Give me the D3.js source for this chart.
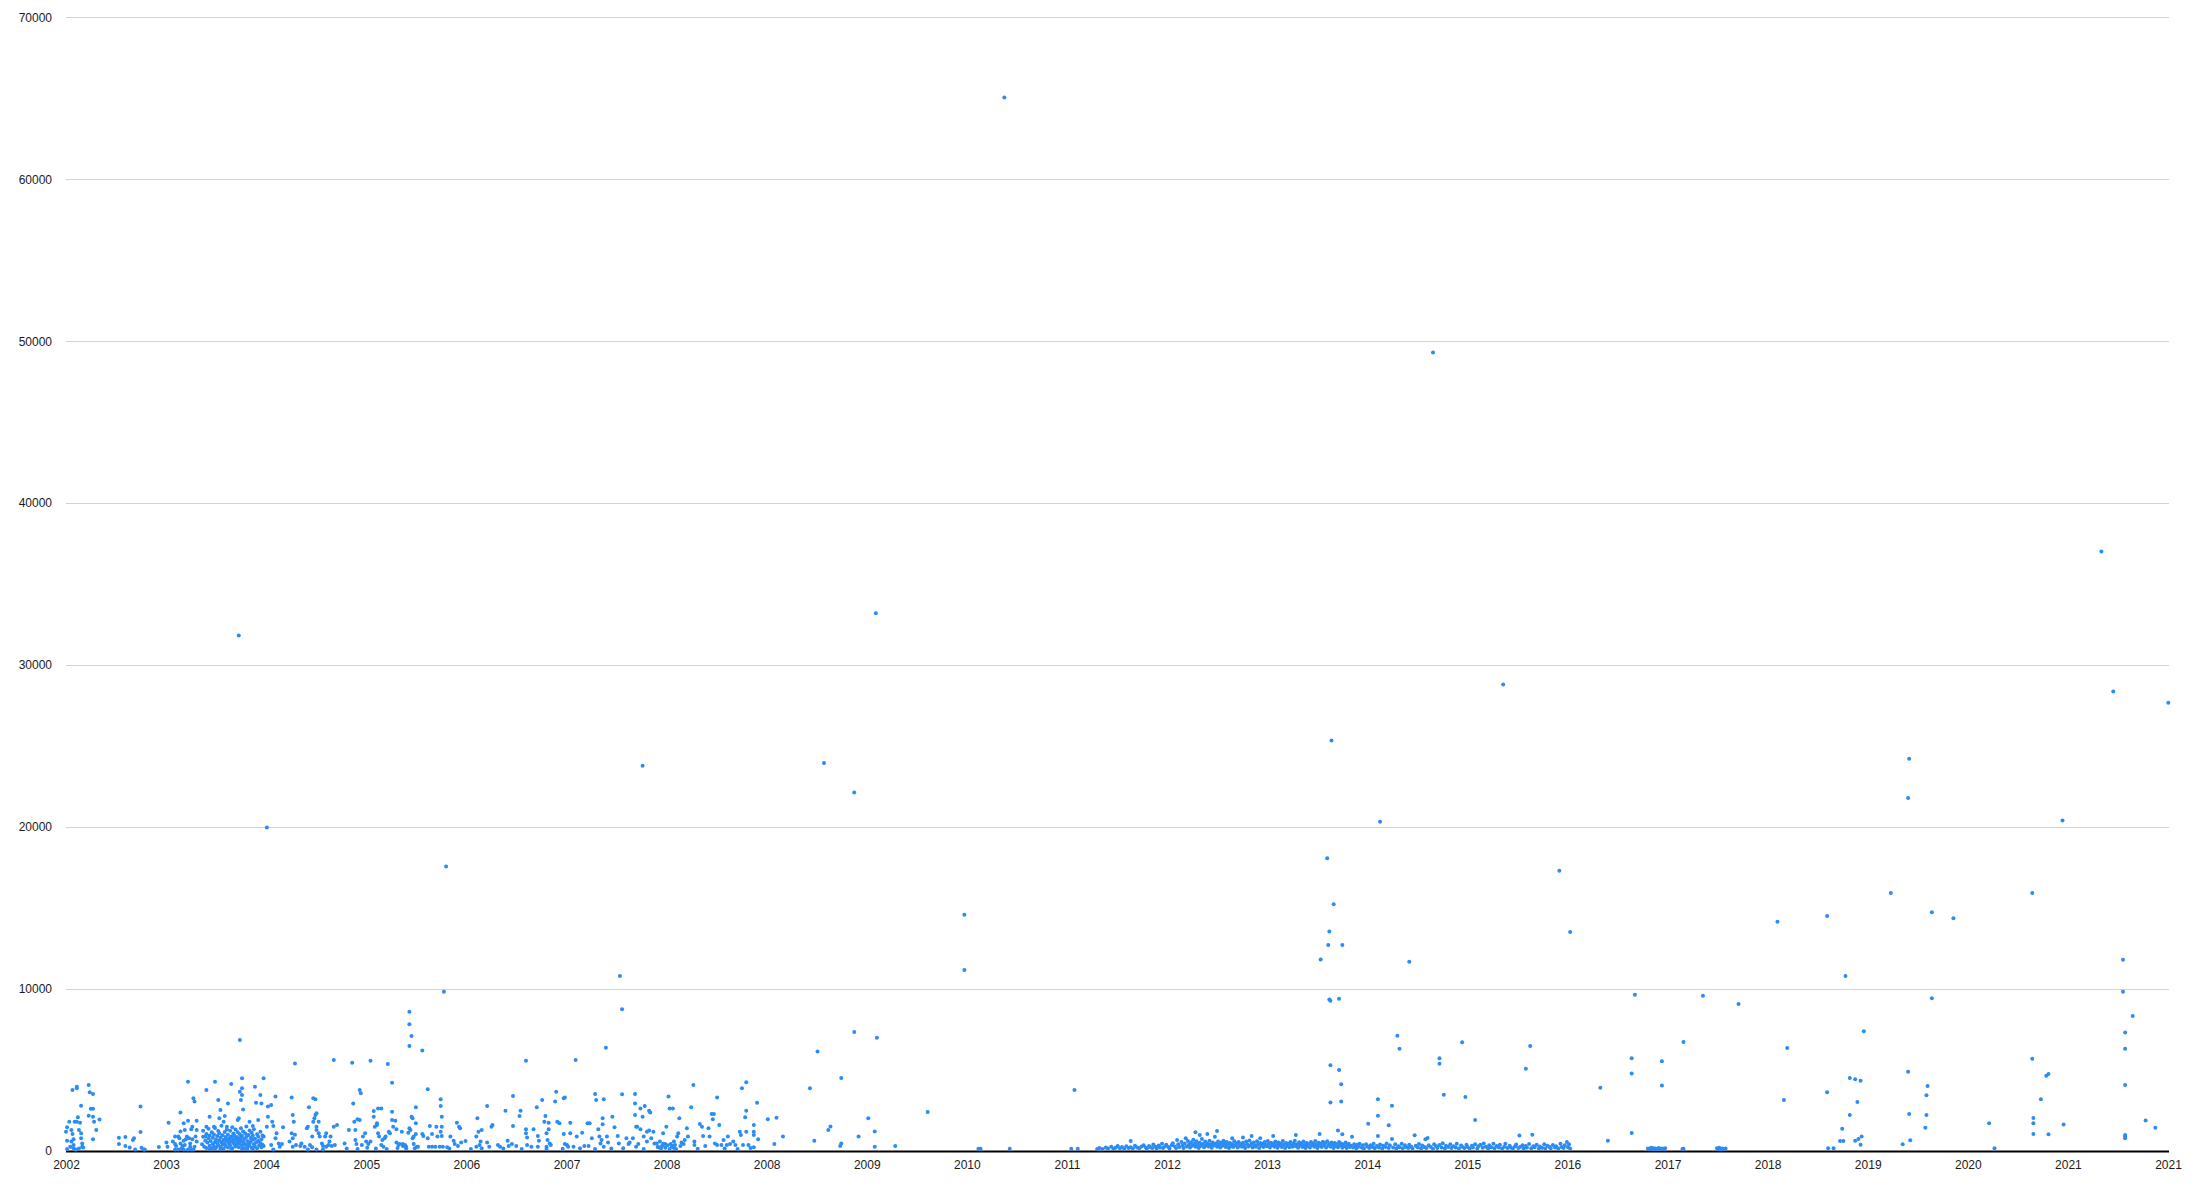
<!DOCTYPE html>
<html>
<head>
<meta charset="utf-8">
<script src="https://cdn.jsdelivr.net/npm/d3@7"></script>
<style>
  html, body { margin: 0; padding: 0; background: #ffffff; }
  svg { display: block; }
  text { font-family: "Liberation Sans", Arial, Helvetica, sans-serif; }
</style>
</head>
<body>
<svg id="chart" width="2197" height="1186"></svg>
<script>
// ---------------- DATA ----------------
const yTicks = [0, 10000, 20000, 30000, 40000, 50000, 60000, 70000];
const xTickLabels = ["2002","2003","2004","2005","2006","2007","2008","2008","2009","2010","2011",
  "2012","2013","2014","2015","2016","2017","2018","2019","2020","2021","2021"];
const xStart = 2002.0, xEnd = 2021.467;   // date range of the axis (decimal years)

// each point: [decimal year, value]
const outliers = [
[2010.69,65050],[2014.66,49300],[2020.85,37020],[2009.5,33200],[2003.6,31830],[2015.31,28800],
[2020.96,28370],[2021.47,27680],[2013.72,25340],[2019.07,24220],[2009.02,23960],[2007.34,23790],
[2009.3,22140],[2019.06,21800],[2020.49,20410],[2014.17,20330],[2003.86,19980],[2013.68,18080],
[2005.52,17560],[2015.83,17300],[2018.9,15930],[2020.21,15930],[2013.74,15230],[2019.28,14740],
[2010.32,14590],[2018.31,14510],[2019.48,14370],[2017.85,14160],[2013.7,13560],[2015.93,13520],
[2013.69,12720],[2013.82,12720],[2013.62,11830],[2014.44,11690],[2021.05,11810],[2010.32,11180],
[2007.13,10810],[2018.48,10810]
];

const pts2002 = [
[2002.01,1460],[2002.0,1190],[2002.01,640],[2002.01,120],[2002.03,1810],[2002.05,1300],[2002.06,1050],
[2002.07,720],[2002.07,370],[2002.07,165],[2002.06,3770],[2002.1,3870],[2002.1,3970],[2002.08,1810],
[2002.1,1810],[2002.11,2080],[2002.12,1300],[2002.13,1750],[2002.14,1090],[2002.14,780],[2002.15,470],
[2002.15,270],[2002.14,2800],[2002.21,4080],[2002.22,3620],[2002.25,3520],[2002.23,2610],[2002.25,2610],
[2002.21,2180],[2002.25,2120],[2002.26,1810],[2002.31,1950],[2002.28,1300],[2002.25,720],[2002.04,270],
[2002.05,580],[2002.09,100],[2002.12,160],[2002.16,220],
[2002.49,820],[2002.49,430],[2002.55,860],[2002.55,310],[2002.59,210],[2002.63,780],[2002.62,680],
[2002.64,100],[2002.69,2740],[2002.69,1170],[2002.7,200],[2002.72,100],[2002.73,100]
];

const pts2003 = [
[2002.86,250],[2002.93,520],[2002.94,270],[2002.95,1750],[2002.99,580],[2003.01,430],[2003.02,310],
[2003.04,890],[2003.05,780],[2003.06,2370],[2003.06,470],[2003.07,165],[2003.08,310],[2003.09,640],
[2003.09,1710],[2003.1,1300],[2003.1,370],[2003.12,890],[2003.13,4280],[2003.13,1870],[2003.14,780],
[2003.15,270],[2003.15,470],[2003.16,1340],[2003.17,1500],[2003.17,720],[2003.18,3250],[2003.19,3050],
[2003.19,270],[2003.2,890],[2003.21,1870],[2003.21,1300],[2003.21,580],[2003.11,720],[2003.01,100],
[2003.04,100],[2003.09,100],[2003.13,100],[2003.16,100],[2003.18,100],[2003.01,890],[2003.06,1200],
[2003.3,3770],[2003.38,4280],[2003.41,3150],[2003.43,2530],[2003.42,2020],[2003.47,2160],[2003.5,2940],
[2003.53,4140],[2003.61,6850],[2003.63,4490],[2003.63,3870],[2003.61,3660],[2003.63,3460],[2003.62,3150],
[2003.64,2570],[2003.6,2020],[2003.59,1910],[2003.75,3970],[2003.83,4490],[2003.76,2980],[2003.8,3460],
[2003.81,2940],[2003.78,1910],[2003.7,1810],[2003.73,1540],[2003.33,2120],[2003.3,1500],[2003.29,890],
[2003.37,1500],[2003.46,1810],[2003.49,1500]
];

const core2003 = [
[2003.26,420],[2003.27,880],[2003.27,1250],[2003.28,260],[2003.29,640],[2003.3,1050],[2003.3,180],
[2003.31,520],[2003.32,780],[2003.32,1380],[2003.33,330],[2003.33,950],[2003.34,610],[2003.35,150],
[2003.35,1160],[2003.36,430],[2003.36,820],[2003.37,290],[2003.37,1020],[2003.38,560],[2003.38,1420],
[2003.39,710],[2003.39,210],[2003.4,930],[2003.4,480],[2003.41,1240],[2003.41,350],[2003.42,650],
[2003.42,1100],[2003.43,240],[2003.43,830],[2003.44,520],[2003.44,1560],[2003.45,380],[2003.45,980],
[2003.46,690],[2003.46,140],[2003.47,1180],[2003.47,450],[2003.48,860],[2003.48,310],[2003.49,1330],
[2003.49,610],[2003.5,1010],[2003.5,220],[2003.51,760],[2003.51,470],[2003.52,1250],[2003.52,350],
[2003.53,900],[2003.53,580],[2003.54,1470],[2003.54,170],[2003.55,720],[2003.55,1080],[2003.56,410],
[2003.56,940],[2003.57,280],[2003.57,1320],[2003.58,630],[2003.58,870],[2003.59,500],[2003.59,1150],
[2003.6,230],[2003.6,790],[2003.61,1030],[2003.61,440],[2003.62,1400],[2003.62,660],[2003.63,320],
[2003.63,920],[2003.64,560],[2003.64,1210],[2003.65,150],[2003.65,740],[2003.66,1080],[2003.66,390],
[2003.67,860],[2003.67,1520],[2003.68,250],[2003.68,610],[2003.69,990],[2003.69,470],[2003.7,1260],
[2003.7,330],[2003.71,800],[2003.71,560],[2003.72,1130],[2003.72,200],[2003.73,690],[2003.73,940],
[2003.74,410],[2003.74,1350],[2003.75,280],[2003.75,760],[2003.76,520],[2003.77,1040],[2003.77,170],
[2003.78,620],[2003.78,880],[2003.79,360],[2003.8,1190],[2003.8,490],[2003.81,230],[2003.81,720],
[2003.82,960],[2003.82,380],[2003.45,560],[2003.5,640],[2003.55,520],[2003.6,600],[2003.65,480],
[2003.52,800],[2003.57,760],[2003.62,840],[2003.48,700],[2003.58,330],[2003.53,120],[2003.63,130],
[2003.43,110],[2003.68,120],[2003.73,110],[2003.38,130],[2003.33,120]
];

const pts2004 = [
[2003.87,2740],[2003.87,2120],[2003.9,2840],[2003.91,1810],[2003.92,1540],[2003.94,780],[2003.94,3360],
[2003.95,1090],[2003.97,470],[2003.98,270],[2004.0,430],[2004.01,1460],[2003.9,370],[2003.92,100],
[2003.86,1500],[2003.83,890],[2003.83,310],[2004.09,3310],[2004.1,2220],[2004.11,1810],[2004.09,1090],
[2004.1,780],[2004.1,270],[2004.12,1000],[2004.13,370],[2004.07,580],[2004.12,5410],
[2004.17,310],[2004.18,470],[2004.21,270],[2004.23,1400],[2004.24,1500],[2004.25,2700],[2004.26,370],
[2004.28,890],[2004.29,1810],[2004.3,2020],[2004.31,2220],[2004.32,2330],[2004.32,1500],[2004.32,1300],
[2004.34,1810],[2004.34,1090],[2004.35,890],[2004.37,470],[2004.38,310],[2004.4,890],[2004.41,1090],
[2004.41,270],[2004.43,370],[2004.44,580],[2004.45,890],[2004.46,310],[2004.48,1500],[2004.49,370],
[2004.51,1600],[2004.48,5620],[2004.29,3250],[2004.31,3190],[2004.28,230],[2004.24,100],[2004.32,100],
[2004.38,100],
[2004.58,470],[2004.62,1300],[2004.65,5450],[2004.66,2940],[2004.67,1810],[2004.68,1300],[2004.68,680],
[2004.69,430],[2004.7,1960],[2004.72,3770],[2004.73,3560],[2004.72,1910],[2004.74,370],[2004.75,890],
[2004.77,1090],[2004.78,580],[2004.8,430],[2004.82,580],[2004.82,5580],[2004.85,2120],[2004.85,2470],
[2004.86,1500],[2004.88,1710],[2004.88,1600],[2004.89,2630],[2004.89,1090],[2004.9,890],[2004.92,2630],
[2004.92,370],[2004.93,680],[2004.94,270],[2004.95,780],[2004.96,890],[2004.98,5370],[2004.99,1190],
[2005.0,1090],[2005.02,1910],[2005.02,2430],[2005.02,4220],[2005.03,1500],[2005.05,1870],[2005.06,1340],
[2005.06,520],[2005.08,370],[2005.09,430],[2005.12,310],[2005.14,370],
[2004.6,150],[2004.7,120],[2004.79,200],[2004.87,150],[2004.97,120],[2005.07,180],[2005.15,150]
];

const pts2005_2006 = [
[2005.18,8600],[2005.18,7820],[2005.2,7100],[2005.18,6480],
[2005.11,1190],[2005.12,430],[2005.14,310],[2005.15,270],[2005.17,1130],[2005.18,1400],[2005.19,1300],
[2005.2,2120],[2005.21,2020],[2005.21,780],[2005.22,890],[2005.22,430],[2005.23,165],[2005.24,1710],
[2005.24,2700],[2005.24,1050],[2005.25,270],[2005.26,270],[2005.3,1050],[2005.31,930],[2005.3,6200],
[2005.35,3810],[2005.35,780],[2005.36,270],[2005.37,1540],[2005.39,270],[2005.39,1050],[2005.42,270],
[2005.43,1500],[2005.44,890],[2005.46,270],[2005.47,3190],[2005.47,2780],[2005.48,2120],[2005.48,1500],
[2005.47,1190],[2005.48,930],[2005.49,270],[2005.5,9840],[2005.53,230],[2005.56,890],[2005.59,640],
[2005.6,430],[2005.62,1750],[2005.64,1500],[2005.65,1400],[2005.66,520],[2005.7,620],[2005.63,310],
[2005.8,890],[2005.81,2020],[2005.82,1190],[2005.85,1300],[2005.84,580],[2005.83,370],[2005.85,165],
[2005.8,270],[2005.9,2780],[2005.9,520],[2005.92,270],[2005.94,1500],[2005.95,1600],[2006.0,370],
[2006.02,270],[2006.07,2490],[2006.09,640],[2006.1,310],[2006.13,430],[2006.14,3400],[2006.14,1540],
[2006.17,310],[2006.2,2160],[2006.21,2490],[2006.26,5580],[2006.26,1340],[2006.26,1090],[2006.27,840],
[2006.27,370],[2006.31,270],[2006.33,1340],[2006.36,2700],[2006.37,270],[2006.37,930],[2006.38,640],
[2006.41,3150],[2006.43,1810],[2006.44,2160],[2006.45,1090],[2006.46,680],[2006.47,1750],[2006.47,1340],
[2006.48,470],[2006.49,370],[2006.45,270],[2006.45,120],[2006.53,3050],[2006.54,3660],[2006.55,1810],
[2006.57,1710],[2006.61,3250],[2006.62,3310],[2006.61,1050],[2006.62,430],[2006.64,370],[2006.65,270],
[2006.67,1750],[2006.67,1090],[2006.7,270],[2006.72,5620],[2006.73,890],[2006.76,165],[2006.78,1130],
[2006.8,310],[2006.83,1710],[2006.84,310],[2006.85,1710],[2006.87,780],[2006.9,3520],[2006.91,3150],
[2006.93,1340],[2006.94,890],[2006.95,470],[2006.96,680],[2006.97,2020],[2006.98,3190],[2006.97,1650],
[2006.98,270],[2005.55,150],[2005.75,120],[2006.05,150],[2006.22,120],[2006.6,140],[2006.9,120]
];

const pts2007_2008 = [
[2007.0,6380],[2007.01,890],[2007.02,520],[2007.06,2120],[2007.08,1460],[2007.11,930],[2007.12,470],
[2007.15,8750],[2007.15,3500],[2007.16,165],[2007.19,780],[2007.21,430],[2007.22,520],[2007.25,780],
[2007.27,3520],[2007.27,2940],[2007.27,2220],[2007.28,1500],[2007.29,1500],[2007.28,270],[2007.3,430],
[2007.32,2630],[2007.32,1340],[2007.34,2120],[2007.35,890],[2007.36,2780],[2007.38,1190],[2007.38,580],
[2007.4,2490],[2007.41,2370],[2007.4,1260],[2007.42,780],[2007.44,1190],[2007.45,470],[2007.47,470],
[2007.49,230],[2007.5,580],[2007.52,310],[2007.53,1090],[2007.55,430],[2007.56,1500],[2007.58,3360],
[2007.59,2630],[2007.6,430],[2007.62,310],[2007.62,2630],[2007.63,580],[2007.64,370],[2007.66,890],
[2007.67,1090],[2007.68,2020],[2007.69,310],[2007.7,520],[2007.72,430],[2007.73,680],[2007.75,1400],
[2007.76,890],[2007.79,2700],[2007.81,4080],[2007.82,580],[2007.82,370],[2007.87,1670],[2007.89,1500],
[2007.9,930],[2007.92,310],[2007.95,1400],[2007.96,890],[2007.98,2280],[2007.99,1960],[2008.0,2280],
[2008.01,470],[2008.03,370],[2008.03,3310],[2008.05,1600],[2008.07,370],[2008.09,680],[2008.12,370],
[2008.13,890],[2008.15,430],[2008.18,580],[2008.2,370],[2008.24,1190],[2008.25,990],[2008.26,3870],
[2008.27,370],[2008.29,2080],[2008.3,2490],[2008.3,1190],[2008.3,4240],[2008.32,370],
[2007.48,250],[2007.51,150],[2007.53,450],[2007.55,200],[2007.57,350],[2007.59,130],[2007.61,260],
[2007.63,180],[2007.65,120],
[2007.05,150],[2007.35,130],[2007.85,140],[2008.1,150],[2008.22,130]
];

const pts2009_2011 = [
[2008.34,190],[2008.37,230],[2008.37,1600],[2008.37,1190],[2008.37,990],[2008.4,2980],[2008.41,720],
[2008.5,1960],[2008.56,430],[2008.58,2060],[2008.64,890],[2008.89,3870],[2008.93,640],[2008.96,6150],
[2009.06,1300],[2009.08,1520],[2009.17,310],[2009.18,470],[2009.18,4510],[2009.3,7350],[2009.34,890],
[2009.43,2020],[2009.49,1210],[2009.49,270],[2009.51,7000],[2009.68,310],[2009.98,2410],[2010.45,140],
[2010.47,140],[2010.74,140],[2011.31,140],[2011.34,3770],[2011.37,140]
];

const band2011_2016 = [
[2011.55,130],[2011.57,180],[2011.6,120],[2011.63,210],[2011.65,150],[2011.68,260],[2011.7,140],
[2011.72,200],[2011.74,310],[2011.76,170],[2011.78,240],[2011.8,130],[2011.82,290],[2011.84,190],
[2011.86,620],[2011.86,230],[2011.88,150],[2011.9,330],[2011.92,210],[2011.94,170],[2011.96,280],
[2011.98,360],[2012.0,220],[2012.01,140],[2012.03,310],[2012.04,250],[2012.06,180],[2012.07,400],
[2012.09,270],[2012.1,150],[2012.12,340],[2012.13,220],[2012.15,450],[2012.16,180],[2012.18,300],
[2012.19,390],[2012.21,240],[2012.22,160],[2012.24,350],[2012.25,480],[2012.27,280],[2012.28,190],
[2012.29,680],[2012.3,420],[2012.31,250],[2012.33,560],[2012.34,330],[2012.35,180],[2012.36,470],
[2012.37,780],[2012.38,280],[2012.39,620],[2012.4,390],[2012.41,210],[2012.42,540],[2012.43,320],
[2012.44,700],[2012.45,450],[2012.46,1150],[2012.46,260],[2012.47,600],[2012.48,380],[2012.49,190],
[2012.5,990],[2012.5,510],[2012.51,310],[2012.52,740],[2012.53,430],[2012.54,230],[2012.55,580],
[2012.56,360],[2012.57,1050],[2012.57,470],[2012.58,280],[2012.59,640],[2012.6,400],[2012.61,200],
[2012.62,530],[2012.63,340],[2012.64,880],[2012.65,460],[2012.66,1230],[2012.66,270],[2012.67,590],
[2012.68,380],[2012.69,210],[2012.7,520],[2012.71,330],[2012.72,640],[2012.73,440],[2012.74,250],
[2012.75,560],[2012.76,370],[2012.77,180],[2012.78,490],[2012.79,300],[2012.8,780],[2012.8,420],
[2012.81,240],[2012.82,600],[2012.83,350],[2012.84,470],[2012.85,210],[2012.86,550],[2012.87,320],
[2012.88,430],[2012.89,260],[2012.9,840],[2012.9,510],[2012.91,370],[2012.92,190],[2012.93,580],
[2012.94,410],[2012.95,280],[2012.96,650],[2012.97,340],[2012.98,930],[2012.98,470],[2012.99,220],
[2013.0,530],[2013.01,360],[2013.02,260],[2013.03,600],[2013.04,420],[2013.05,180],[2013.06,780],
[2013.06,500],[2013.07,330],[2013.08,450],[2013.09,240],[2013.1,560],[2013.11,380],[2013.12,290],
[2013.13,620],[2013.14,430],[2013.15,210],[2013.16,510],[2013.17,350],[2013.18,930],[2013.18,460],
[2013.19,270],[2013.2,580],[2013.21,390],[2013.22,200],[2013.23,520],[2013.24,340],[2013.25,460],
[2013.26,250],[2013.27,610],[2013.28,380],[2013.29,180],[2013.3,500],[2013.31,320],[2013.32,440],
[2013.33,230],[2013.34,560],[2013.35,360],[2013.36,270],[2013.37,480],[2013.38,640],[2013.39,990],
[2013.39,300],[2013.4,420],[2013.41,200],[2013.42,540],[2013.43,340],[2013.44,460],[2013.45,250],
[2013.46,580],[2013.47,370],[2013.48,180],[2013.49,500],[2013.5,310],[2013.51,430],[2013.52,220],
[2013.53,560],[2013.54,350],[2013.55,470],[2013.56,260],[2013.57,620],[2013.58,380],[2013.59,190],
[2013.6,510],[2013.61,1050],[2013.61,330],[2013.62,450],[2013.63,240],[2013.64,570],[2013.65,360],
[2013.66,480],[2013.67,210],[2013.68,600],[2013.69,340],[2013.7,450],[2013.71,260],[2013.72,530],
[2013.73,380],[2013.74,180],[2013.75,490],[2013.76,310],[2013.77,420],[2013.78,1260],[2013.78,230],
[2013.79,550],[2013.8,350],[2013.81,470],[2013.82,1030],[2013.82,200],[2013.83,400],[2013.84,290],
[2013.85,520],[2013.86,180],[2013.87,370],[2013.88,440],[2013.89,250],[2013.9,330],[2013.91,880],
[2013.92,210],[2013.93,410],[2013.94,300],[2013.95,170],[2013.96,380],[2013.97,260],[2013.98,450],
[2014.0,220],[2014.01,350],[2014.02,160],[2014.04,420],[2014.05,280],[2014.06,1690],[2014.07,190],
[2014.08,360],[2014.1,240],[2014.11,450],[2014.12,170],[2014.14,310],[2014.15,930],[2014.16,220],
[2014.17,400],[2014.19,150],[2014.2,330],[2014.22,250],[2014.23,470],[2014.25,180],[2014.26,360],
[2014.28,740],[2014.29,220],[2014.31,410],[2014.32,160],[2014.34,300],[2014.35,230],[2014.37,440],
[2014.38,170],[2014.4,350],[2014.41,250],[2014.43,190],[2014.44,380],[2014.46,270],[2014.47,150],
[2014.49,970],[2014.5,320],[2014.52,210],[2014.53,430],[2014.55,160],[2014.56,340],[2014.58,240],
[2014.59,720],[2014.6,180],[2014.61,800],[2014.62,360],[2014.64,250],[2014.66,140],[2014.67,420],
[2014.69,300],[2014.7,190],[2014.72,370],[2014.74,220],[2014.75,480],[2014.77,160],[2014.78,330],
[2014.8,250],[2014.82,410],[2014.83,180],[2014.85,300],[2014.87,220],[2014.88,450],[2014.9,150],
[2014.92,340],[2014.93,260],[2014.95,180],[2014.97,390],[2014.98,240],[2015.0,160],[2015.02,330],
[2015.03,210],[2015.05,420],[2015.07,150],[2015.08,290],[2015.1,380],[2015.12,200],[2015.13,470],
[2015.15,260],[2015.17,160],[2015.18,350],[2015.2,230],[2015.22,440],[2015.23,170],[2015.25,310],
[2015.27,210],[2015.28,380],[2015.3,150],[2015.32,270],[2015.33,450],[2015.35,190],[2015.37,330],
[2015.38,220],[2015.4,150],[2015.42,290],[2015.43,400],[2015.45,180],[2015.46,950],[2015.47,260],
[2015.49,350],[2015.5,140],[2015.52,310],[2015.53,210],[2015.55,430],[2015.57,170],[2015.58,1010],
[2015.59,300],[2015.6,230],[2015.62,380],[2015.64,150],[2015.65,280],[2015.67,200],[2015.69,420],
[2015.7,160],[2015.72,320],[2015.74,240],[2015.75,170],[2015.77,370],[2015.79,210],[2015.8,290],
[2015.82,150],[2015.84,440],[2015.85,250],[2015.87,180],[2015.88,360],[2015.9,560],[2015.91,230],
[2015.92,420],[2015.93,160]
];

const spikes2013_2016 = [
[2013.7,9360],[2013.71,9280],[2013.79,9400],[2014.33,7120],[2014.35,6320],[2013.71,5290],[2013.79,5000],
[2013.81,4120],[2013.71,3000],[2013.81,3050],[2014.72,5720],[2014.72,5390],[2014.93,6710],[2014.76,3480],
[2014.96,3330],[2015.05,1910],[2014.15,3190],[2014.15,2180],[2014.28,2800],[2014.25,1590],[2015.52,5080],
[2015.56,6480],[2016.21,3910],[2016.5,5720],[2016.5,4780],[2016.5,1110],[2016.53,9650],[2016.78,5540],
[2016.78,4050],[2016.98,6730],[2016.28,640]
];

const pts2016_2021 = [
[2016.65,150],[2016.67,120],[2016.68,200],[2016.69,140],[2016.7,170],[2016.71,110],[2016.72,160],
[2016.74,130],[2016.75,190],[2016.77,120],[2016.78,150],[2016.8,130],[2016.81,170],[2016.98,140],
[2016.97,120],[2017.29,170],[2017.3,120],[2017.31,200],[2017.32,140],[2017.33,110],[2017.34,160],
[2017.35,130],[2017.37,150],
[2017.16,9590],[2017.49,9080],[2017.94,6360],[2017.91,3150],[2018.31,3620],[2018.32,165],[2018.37,165],
[2018.52,4510],[2018.57,4430],[2018.62,4340],[2018.59,3030],[2018.52,2220],[2018.45,1380],[2018.43,620],
[2018.46,620],[2018.57,640],[2018.6,740],[2018.63,890],[2018.62,390],[2018.65,7390],[2019.28,9430],
[2019.06,4900],[2019.24,4010],[2019.23,3440],[2019.23,2220],[2019.07,2280],[2019.22,1440],[2019.01,410],
[2019.08,660],[2019.81,1710],[2019.86,165],[2020.21,5700],[2020.34,4650],[2020.36,4750],[2020.29,3190],
[2020.22,2040],[2020.22,1710],[2020.22,1050],[2020.36,1030],[2020.5,1630],[2021.05,9840],[2021.14,8340],
[2021.07,7310],[2021.07,6320],[2021.07,4080],[2021.07,990],[2021.07,890],[2021.07,780],[2021.26,1890],
[2021.35,1440]
];

// ---------------- CHART ----------------
const W = 2197, H = 1186;
const plot = { left: 66, right: 2168, top: 17.3, bottom: 1151 };

const svg = d3.select("#chart");
svg.append("rect").attr("width", W).attr("height", H).attr("fill", "#ffffff");

const x = d3.scaleLinear().domain([xStart, xEnd]).range([plot.left, plot.right]);
const y = d3.scaleLinear().domain([0, 70000]).range([plot.bottom, plot.top]);
const xTickScale = d3.scaleLinear().domain([0, xTickLabels.length - 1]).range([plot.left, plot.right]);

// gridlines
svg.append("g").selectAll("line")
  .data(yTicks.filter(v => v > 0))
  .join("line")
  .attr("x1", plot.left).attr("x2", plot.right + 1)
  .attr("y1", d => Math.round(y(d)) + 0.5).attr("y2", d => Math.round(y(d)) + 0.5)
  .attr("stroke", "#d3d3d3").attr("stroke-width", 1);

// y labels
svg.append("g").selectAll("text")
  .data(yTicks)
  .join("text")
  .attr("x", 52)
  .attr("y", d => y(d) + 4.3)
  .attr("text-anchor", "end")
  .attr("font-size", 12)
  .attr("fill", "#1a1a1a")
  .text(d => String(d));

// x labels
const xAxis = d3.axisBottom(xTickScale)
  .tickValues(d3.range(xTickLabels.length))
  .tickFormat(i => xTickLabels[i])
  .tickSize(0).tickPadding(0);
const gx = svg.append("g").attr("transform", `translate(0,${plot.bottom + 18})`).call(xAxis);
gx.select(".domain").remove();
gx.selectAll("text")
  .attr("font-size", 12)
  .attr("font-family", "'Liberation Sans', Arial, Helvetica, sans-serif")
  .attr("fill", "#1a1a1a")
  .attr("dy", 0);

// points
const allPoints = [].concat(pts2002, pts2003, core2003, pts2004, pts2005_2006, pts2007_2008,
  pts2009_2011, band2011_2016, spikes2013_2016, pts2016_2021, outliers);

// zero axis line
svg.append("line")
  .attr("x1", plot.left).attr("x2", plot.right + 1)
  .attr("y1", y(0) + 0.5).attr("y2", y(0) + 0.5)
  .attr("stroke", "#000000").attr("stroke-width", 1.8);

svg.append("g").selectAll("circle")
  .data(allPoints)
  .join("circle")
  .attr("cx", d => x(d[0]))
  .attr("cy", d => y(d[1]))
  .attr("r", 2.0)
  .attr("fill", "#2a8cf4");
</script>
</body>
</html>
